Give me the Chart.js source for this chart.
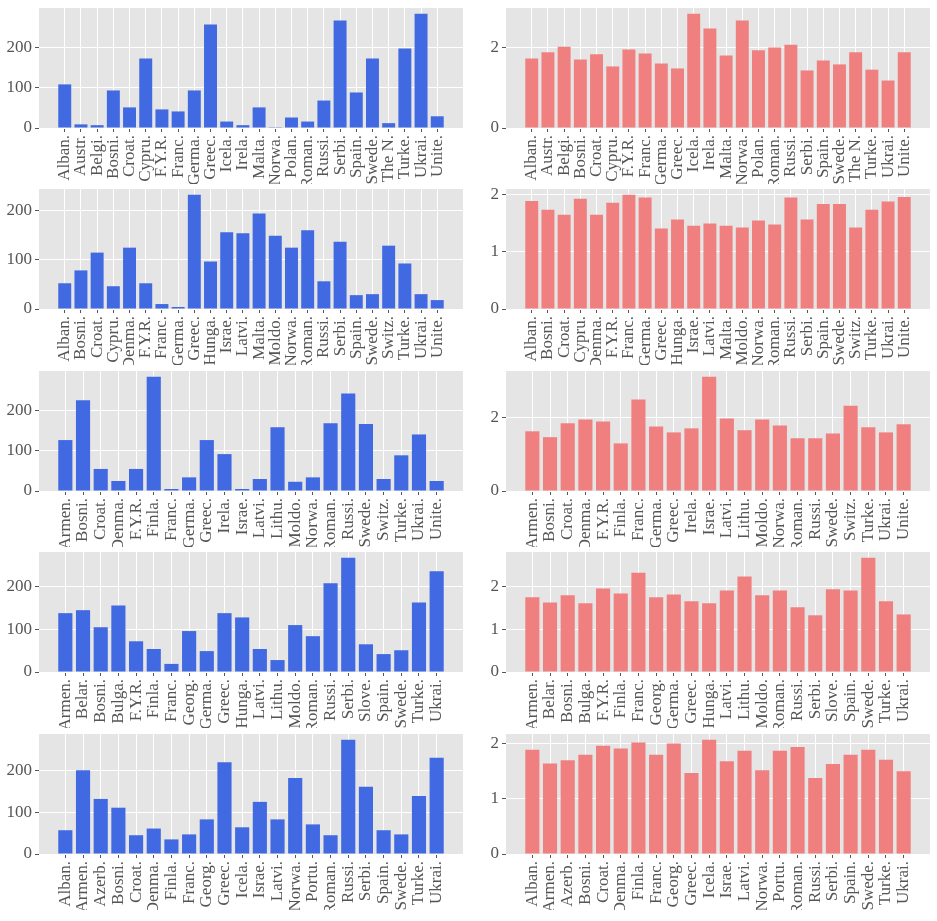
<!DOCTYPE html>
<html>
<head>
<meta charset="utf-8">
<script src="https://cdn.jsdelivr.net/npm/chart.js@4.4.0/dist/chart.umd.min.js"></script>
<style>
  body { margin: 0; background: #fff; }
  #page { position: relative; width: 937px; height: 921px; overflow: hidden; }
  .panel { position: absolute; }
</style>
</head>
<body>
<div id="page"></div>
<script>
// Categories per row (left and right panels of a row share them)
const labels1 = ['Alban.', 'Austr.', 'Belgi.', 'Bosni.', 'Croat.', 'Cypru.', 'F.Y.R.', 'Franc.', 'Germa.', 'Greec.', 'Icela.', 'Irela.',
    'Malta.', 'Norwa.', 'Polan.', 'Roman.', 'Russi.', 'Serbi.', 'Spain.', 'Swede.', 'The N.', 'Turke.', 'Ukrai.', 'Unite.'];
const labels2 = ['Alban.', 'Bosni.', 'Croat.', 'Cypru.', 'Denma.', 'F.Y.R.', 'Franc.', 'Germa.', 'Greec.', 'Hunga.', 'Israe.', 'Latvi.',
    'Malta.', 'Moldo.', 'Norwa.', 'Roman.', 'Russi.', 'Serbi.', 'Spain.', 'Swede.', 'Switz.', 'Turke.', 'Ukrai.', 'Unite.'];
const labels3 = ['Armen.', 'Bosni.', 'Croat.', 'Denma.', 'F.Y.R.', 'Finla.', 'Franc.', 'Germa.', 'Greec.', 'Irela.', 'Israe.',
    'Latvi.', 'Lithu.', 'Moldo.', 'Norwa.', 'Roman.', 'Russi.', 'Swede.', 'Switz.', 'Turke.', 'Ukrai.', 'Unite.'];
const labels4 = ['Armen.', 'Belar.', 'Bosni.', 'Bulga.', 'F.Y.R.', 'Finla.', 'Franc.', 'Georg.', 'Germa.', 'Greec.', 'Hunga.',
    'Latvi.', 'Lithu.', 'Moldo.', 'Roman.', 'Russi.', 'Serbi.', 'Slove.', 'Spain.', 'Swede.', 'Turke.', 'Ukrai.'];
const labels5 = ['Alban.', 'Armen.', 'Azerb.', 'Bosni.', 'Croat.', 'Denma.', 'Finla.', 'Franc.', 'Georg.', 'Greec.', 'Icela.',
    'Israe.', 'Latvi.', 'Norwa.', 'Portu.', 'Roman.', 'Russi.', 'Serbi.', 'Spain.', 'Swede.', 'Turke.', 'Ukrai.'];

// Left column (blue) values
const blue1 = [108, 9, 7, 93, 51, 172, 46, 41, 93, 256, 16, 7, 51, 2, 26, 16, 68, 266, 88, 172, 12, 197, 283, 29];
const blue2 = [52, 78, 114, 46, 124, 52, 10, 4, 231, 96, 155, 153, 193, 148, 124, 159, 56, 136, 28, 30, 128, 92, 30, 18];
const blue3 = [127, 226, 55, 25, 55, 285, 5, 34, 127, 92, 5, 30, 159, 23, 34, 169, 243, 167, 30, 89, 141, 25];
const blue4 = [138, 145, 105, 156, 72, 54, 19, 96, 49, 138, 128, 54, 28, 110, 84, 208, 268, 65, 42, 51, 163, 236];
const blue5 = [57, 201, 132, 111, 45, 61, 35, 47, 83, 220, 64, 125, 83, 182, 71, 45, 274, 161, 57, 47, 139, 231];

// Right column (red) values
const red1 = [1.73, 1.88, 2.02, 1.70, 1.83, 1.53, 1.95, 1.85, 1.60, 1.48, 2.84, 2.47, 1.80, 2.67, 1.93, 2.00, 2.07, 1.43, 1.68, 1.58, 1.88, 1.45, 1.18, 1.88];
const red2 = [1.88, 1.73, 1.64, 1.92, 1.64, 1.85, 1.99, 1.94, 1.40, 1.56, 1.45, 1.49, 1.45, 1.42, 1.54, 1.47, 1.94, 1.56, 1.83, 1.83, 1.42, 1.73, 1.87, 1.95];
const red3 = [1.63, 1.47, 1.85, 1.95, 1.90, 1.30, 2.50, 1.76, 1.60, 1.71, 3.12, 1.98, 1.66, 1.95, 1.79, 1.44, 1.44, 1.57, 2.33, 1.74, 1.60, 1.82];
const red4 = [1.75, 1.63, 1.80, 1.61, 1.96, 1.84, 2.33, 1.75, 1.82, 1.66, 1.61, 1.91, 2.24, 1.80, 1.91, 1.52, 1.33, 1.94, 1.91, 2.68, 1.66, 1.35];
const red5 = [1.88, 1.63, 1.69, 1.79, 1.95, 1.90, 2.01, 1.79, 1.99, 1.46, 2.06, 1.67, 1.86, 1.51, 1.86, 1.93, 1.37, 1.62, 1.79, 1.88, 1.70, 1.49];

// y tick spacing per row
const blueSteps = [100, 100, 100, 100, 100];
const redSteps = [2, 1, 2, 1, 1];

const rows = [
    { cats: labels1, blue: blue1, red: red1 },
    { cats: labels2, blue: blue2, red: red2 },
    { cats: labels3, blue: blue3, red: red3 },
    { cats: labels4, blue: blue4, red: red4 },
    { cats: labels5, blue: blue5, red: red5 },
];

// layout
const rowTops = [8, 189, 371, 552, 734];
const columns = [{ left: 0, plotLeft: 39 }, { left: 470, plotLeft: 506 }];
const plotW = 424, plotH = 120;
const padTop = 14, padRight = 14, xAxisH = 56;

Chart.defaults.font.family = '"Liberation Serif", "Times New Roman", serif';
Chart.defaults.font.size = 17;
Chart.defaults.color = '#555555';

// grey panel background like the ggplot style
const areaBg = {
    id: 'areaBg',
    beforeDraw(chart) {
        const a = chart.chartArea;
        const ctx = chart.ctx;
        ctx.save();
        ctx.fillStyle = '#E5E5E5';
        ctx.fillRect(a.left, a.top, a.right - a.left, a.bottom - a.top);
        ctx.restore();
    }
};

function makePanel(r, c, cats, values, color, step) {
    const col = columns[c];
    const div = document.createElement('div');
    div.className = 'panel';
    div.style.left = col.left + 'px';
    div.style.top = (rowTops[r] - padTop) + 'px';
    div.style.width = (col.plotLeft - col.left + plotW + padRight) + 'px';
    div.style.height = (padTop + plotH + xAxisH) + 'px';
    const canvas = document.createElement('canvas');
    div.appendChild(canvas);
    document.getElementById('page').appendChild(div);

    const n = cats.length;
    const margin = 0.05 * (n - 1 + 0.8);   // matplotlib default x margins for bars
    const yAxisW = col.plotLeft - col.left;

    new Chart(canvas, {
        type: 'bar',
        data: {
            datasets: [{
                data: values.map((v, i) => ({ x: i, y: v })),
                backgroundColor: color,
                borderWidth: 0,
                categoryPercentage: 1,
                barPercentage: 0.8
            }]
        },
        options: {
            responsive: true,
            maintainAspectRatio: false,
            animation: false,
            layout: { padding: { top: padTop, right: padRight, left: 0, bottom: 0 } },
            plugins: { legend: { display: false }, tooltip: { enabled: false } },
            scales: {
                x: {
                    type: 'linear',
                    offset: false,
                    min: -0.4 - margin,
                    max: n - 1 + 0.4 + margin,
                    afterBuildTicks: (axis) => { axis.ticks = cats.map((_, i) => ({ value: i })); },
                    afterFit: (axis) => { axis.height = xAxisH; },
                    grid: { color: '#ffffff', lineWidth: 1, offset: false, tickColor: '#555555', tickLength: 4 },
                    border: { display: false },
                    ticks: {
                        autoSkip: false,
                        minRotation: 90,
                        maxRotation: 90,
                        padding: 3,
                        callback: (value) => cats[value]
                    }
                },
                y: {
                    min: 0,
                    max: Math.max(...values) * 1.05,
                    afterBuildTicks: (axis) => {
                        const t = [];
                        for (let v = 0; v <= axis.max; v += step) t.push({ value: v });
                        axis.ticks = t;
                    },
                    afterFit: (axis) => { axis.width = yAxisW; },
                    grid: { color: '#ffffff', lineWidth: 1, tickColor: '#555555', tickLength: 4 },
                    border: { display: false },
                    ticks: { padding: 3, callback: (value) => String(value) }
                }
            }
        },
        plugins: [areaBg]
    });
}

rows.forEach((row, r) => {
    makePanel(r, 0, row.cats, row.blue, '#4169E1', blueSteps[r]);
    makePanel(r, 1, row.cats, row.red, '#F08080', redSteps[r]);
});
</script>
</body>
</html>
